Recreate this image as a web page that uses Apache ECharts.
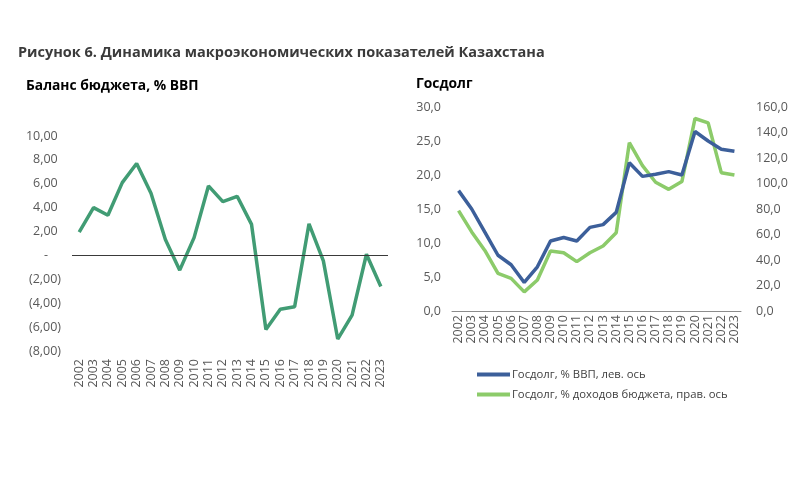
<!DOCTYPE html>
<html>
<head>
<meta charset="utf-8">
<script src="https://cdn.jsdelivr.net/npm/echarts@6/dist/echarts.min.js"></script>
<style>
html,body{margin:0;padding:0;background:#fff;}
#c{width:800px;height:489px;}
</style>
</head>
<body>
<div id="c"></div>
<script>
var years = ['2002','2003','2004','2005','2006','2007','2008','2009','2010','2011','2012','2013','2014','2015','2016','2017','2018','2019','2020','2021','2022','2023'];
var budgetBalance = [1.96, 4.0, 3.36, 6.1, 7.7, 5.2, 1.34, -1.23, 1.49, 5.82, 4.5, 4.95, 2.6, -6.2, -4.5, -4.3, 2.65, -0.45, -7.0, -5.0, 0.1, -2.6];
var debtGdp = [17.7, 15.0, 11.6, 8.2, 6.8, 4.2, 6.5, 10.3, 10.8, 10.3, 12.3, 12.7, 14.5, 21.8, 19.8, 20.1, 20.5, 20.0, 26.4, 25.0, 23.8, 23.5];
var debtRevenue = [78.7, 62.0, 47.5, 29.5, 25.6, 15.0, 24.3, 47.0, 45.7, 38.7, 45.7, 51.0, 61.4, 132.0, 114.0, 101.0, 95.4, 101.5, 151.0, 147.5, 108.5, 106.7];
var mainTitle = 'Рисунок 6. Динамика макроэкономических показателей Казахстана';
var leftTitle = 'Баланс бюджета, % ВВП';
var rightTitle = 'Госдолг';
var seriesNames = ['Госдолг, % ВВП, лев. ось', 'Госдолг, % доходов бюджета, прав. ось'];

var FONT = 'Open Sans';
var chart = echarts.init(document.getElementById('c'));
function fmt2(v){
  if (v === 0) return '-    ';
  var s = Math.abs(v).toFixed(2).replace('.', ',');
  return v < 0 ? '(' + s + ')' : s + ' ';
}
function fmt1(v){ return v.toFixed(1).replace('.', ','); }
var lbl = {color:'#595959', fontSize:12.5, fontFamily:FONT};
chart.setOption({
  animation:false,
  backgroundColor:'#fff',
  title:[
    {text:mainTitle, left:13, top:40, textStyle:{fontFamily:FONT, fontSize:14.5, fontWeight:'bold', color:'#3b3b3b'}},
    {text:leftTitle, left:21, top:74, textStyle:{fontFamily:FONT, fontSize:13.8, fontWeight:'bold', color:'#000'}},
    {text:rightTitle, left:411, top:72, textStyle:{fontFamily:FONT, fontSize:13.8, fontWeight:'bold', color:'#000'}}
  ],
  legend:{
    data:seriesNames,
    orient:'vertical',
    left:472, top:364,
    itemWidth:33, itemHeight:4, itemGap:9,
    icon:'rect',
    textStyle:{color:'#404040', fontSize:11.3, fontFamily:FONT, padding:[0,0,0,-3]}
  },
  grid:[
    {left:72, right:412, top:136, bottom:138},
    {left:452, right:59, top:107, bottom:178}
  ],
  xAxis:[
    {type:'category', gridIndex:0, data:years, boundaryGap:true,
     axisLine:{show:false, onZero:false}, axisTick:{show:false},
     axisLabel:Object.assign({rotate:90, margin:8, interval:0}, lbl)},
    {type:'category', gridIndex:1, data:years, boundaryGap:true,
     axisLine:{show:true, lineStyle:{color:'#8c8c8c', width:1}}, axisTick:{show:false},
     axisLabel:Object.assign({rotate:90, margin:4, interval:0}, lbl)}
  ],
  yAxis:[
    {type:'value', gridIndex:0, min:-8, max:10, interval:2,
     axisLine:{show:false}, axisTick:{show:false}, splitLine:{show:false},
     axisLabel:Object.assign({margin:11, formatter:fmt2}, lbl)},
    {type:'value', gridIndex:1, min:0, max:30, interval:5,
     axisLine:{show:false}, axisTick:{show:false}, splitLine:{show:false},
     axisLabel:Object.assign({margin:11, formatter:fmt1}, lbl)},
    {type:'value', gridIndex:1, min:0, max:160, interval:20, position:'right',
     axisLine:{show:false}, axisTick:{show:false}, splitLine:{show:false},
     axisLabel:Object.assign({margin:15, formatter:fmt1}, lbl)}
  ],
  series:[
    {name:leftTitle, type:'line', xAxisIndex:0, yAxisIndex:0, data:budgetBalance,
     symbol:'none', lineStyle:{color:'#419c74', width:3.5}, itemStyle:{color:'#419c74'},
     z:3,
     markLine:{silent:true, symbol:'none', label:{show:false},
       lineStyle:{color:'#3a3a3a', width:1, type:'solid'}, data:[{yAxis:0}]}},
    {name:seriesNames[0], type:'line', xAxisIndex:1, yAxisIndex:1, data:debtGdp,
     symbol:'none', lineStyle:{color:'#3c5f9a', width:3.5}, itemStyle:{color:'#3c5f9a'}, z:3},
    {name:seriesNames[1], type:'line', xAxisIndex:1, yAxisIndex:2, data:debtRevenue,
     symbol:'none', lineStyle:{color:'#8ccb6a', width:3.5}, itemStyle:{color:'#8ccb6a'}, z:2}
  ]
});
</script>
</body>
</html>
